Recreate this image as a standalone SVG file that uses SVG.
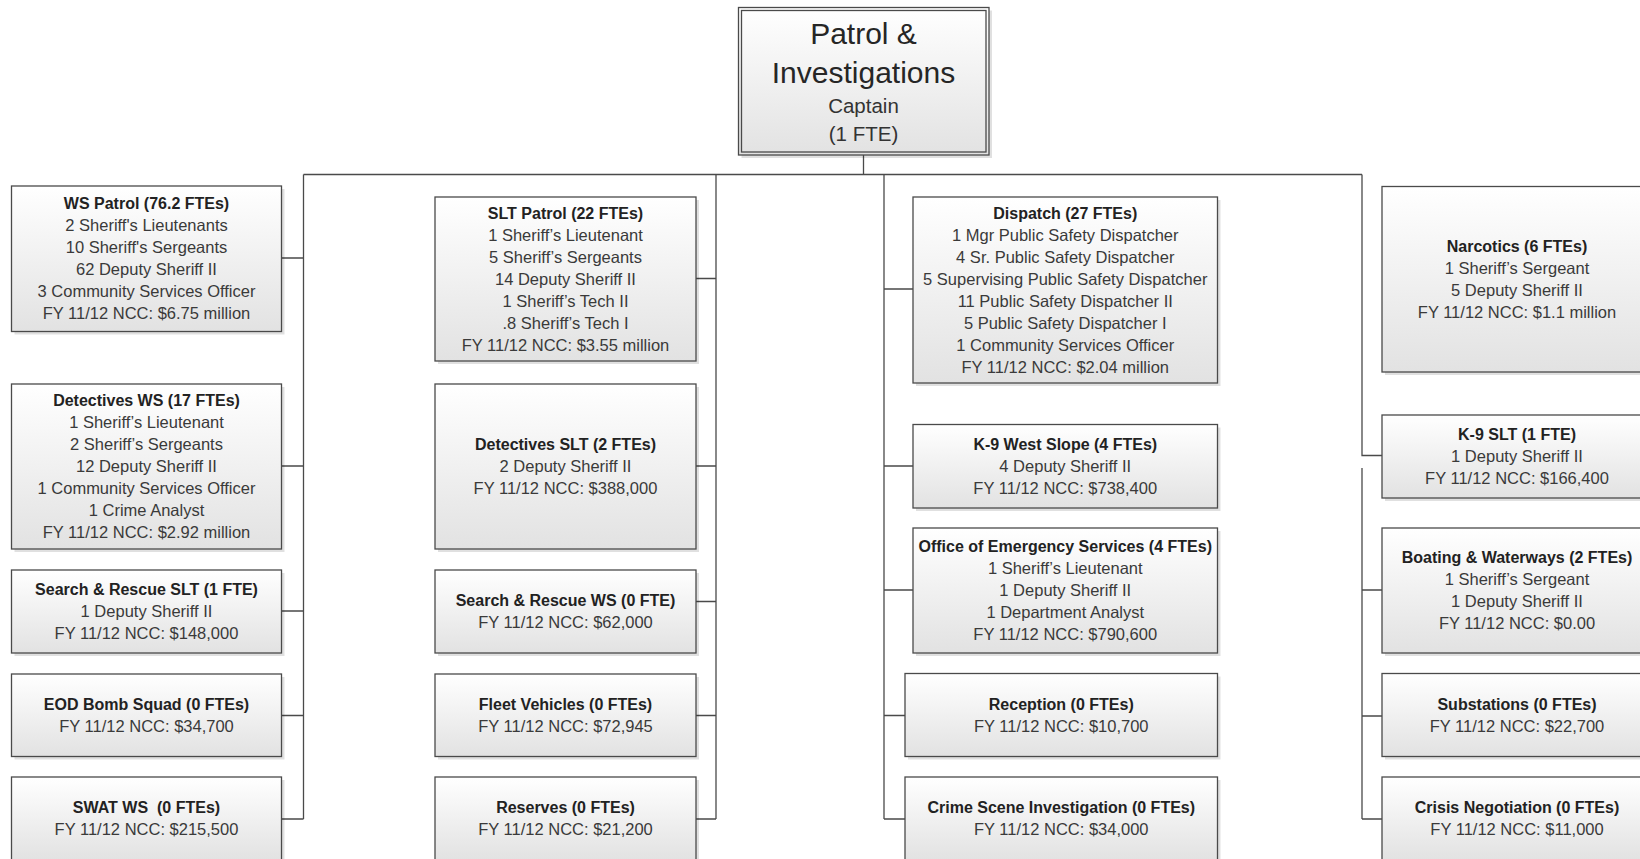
<svg xmlns="http://www.w3.org/2000/svg" width="1640" height="859" viewBox="0 0 1640 859">
<style>
.sh{fill:#000;opacity:0.12}
.bx{fill:url(#g);stroke:#4a4a4a;stroke-width:1.3}
.t{font-family:"Liberation Sans",Arial,sans-serif;font-size:16.5px;fill:#3a3a3a;text-anchor:middle}
.h{font-weight:bold;font-size:16px;fill:#222}
.ti{font-family:"Liberation Sans",Arial,sans-serif;font-size:30px;fill:#262626;text-anchor:middle}
.ts{font-family:"Liberation Sans",Arial,sans-serif;font-size:20.5px;fill:#333;text-anchor:middle}
.cn{fill:none;stroke:#4a4a4a;stroke-width:1.3}
</style>
<defs>
<linearGradient id="g" x1="0" y1="0" x2="0" y2="1">
<stop offset="0" stop-color="#ffffff"/>
<stop offset="1" stop-color="#e2e2e2"/>
</linearGradient>
</defs>
<rect width="1640" height="859" fill="#fff"/>

<g id="connectors">
<path class="cn" d="M863.5 155V174.5M303.5 174.5H1362"/>
<path class="cn" d="M303.5 174.5V819M281.5 258H303.5M281.5 466H303.5M281.5 611H303.5M281.5 715.5H303.5M281.5 819H303.5"/>
<path class="cn" d="M716 174.5V819M696 278.5H716M696 466H716M696 601.5H716M696 715.5H716M696 819H716"/>
<path class="cn" d="M884 174.5V819M884 289H913M884 466H913M884 590H913M884 715.5H905M884 819H905"/>
<path class="cn" d="M1362 174.5V455.5H1382M1362 468V819M1362 590H1382M1362 716H1382M1362 819H1382"/>
</g>

<g id="top">
<rect class="sh" x="741.5" y="10.5" width="250.5" height="147.5"/>
<rect x="738.5" y="7.5" width="250.5" height="147.5" fill="url(#g)" stroke="#4a4a4a" stroke-width="1.3"/>
<rect x="741.5" y="10.5" width="244.5" height="141.5" fill="none" stroke="#4a4a4a" stroke-width="1.3"/>
<text class="ti" x="863.5" y="43.5">Patrol &amp;</text>
<text class="ti" x="863.5" y="83">Investigations</text>
<text class="ts" x="863.5" y="113">Captain</text>
<text class="ts" x="863.5" y="141">(1 FTE)</text>
</g>

<!-- Column 1 -->
<g id="ws-patrol">
<rect class="sh" x="14.5" y="189" width="270" height="145.5"/>
<rect class="bx" x="11.5" y="186" width="270" height="145.5"/>
<text class="t h" x="146.5" y="209.25">WS Patrol (76.2 FTEs)</text>
<text class="t" x="146.5" y="231.25">2 Sheriff's Lieutenants</text>
<text class="t" x="146.5" y="253.25">10 Sheriff's Sergeants</text>
<text class="t" x="146.5" y="275.25">62 Deputy Sheriff II</text>
<text class="t" x="146.5" y="297.25">3 Community Services Officer</text>
<text class="t" x="146.5" y="319.25">FY 11/12 NCC: $6.75 million</text>
</g>
<g id="detectives-ws">
<rect class="sh" x="14.5" y="387" width="270" height="165"/>
<rect class="bx" x="11.5" y="384" width="270" height="165"/>
<text class="t h" x="146.5" y="406">Detectives WS (17 FTEs)</text>
<text class="t" x="146.5" y="428">1 Sheriff’s Lieutenant</text>
<text class="t" x="146.5" y="450">2 Sheriff’s Sergeants</text>
<text class="t" x="146.5" y="472">12 Deputy Sheriff II</text>
<text class="t" x="146.5" y="494">1 Community Services Officer</text>
<text class="t" x="146.5" y="516">1 Crime Analyst</text>
<text class="t" x="146.5" y="538">FY 11/12 NCC: $2.92 million</text>
</g>
<g id="sr-slt">
<rect class="sh" x="14.5" y="573" width="270" height="83"/>
<rect class="bx" x="11.5" y="570" width="270" height="83"/>
<text class="t h" x="146.5" y="595">Search &amp; Rescue SLT (1 FTE)</text>
<text class="t" x="146.5" y="617">1 Deputy Sheriff II</text>
<text class="t" x="146.5" y="639">FY 11/12 NCC: $148,000</text>
</g>
<g id="eod">
<rect class="sh" x="14.5" y="677" width="270" height="82.5"/>
<rect class="bx" x="11.5" y="674" width="270" height="82.5"/>
<text class="t h" x="146.5" y="709.75">EOD Bomb Squad (0 FTEs)</text>
<text class="t" x="146.5" y="731.75">FY 11/12 NCC: $34,700</text>
</g>
<g id="swat-ws">
<rect class="sh" x="14.5" y="780" width="270" height="83"/>
<rect class="bx" x="11.5" y="777" width="270" height="83"/>
<text class="t h" x="146.5" y="813" xml:space="preserve">SWAT WS  (0 FTEs)</text>
<text class="t" x="146.5" y="835">FY 11/12 NCC: $215,500</text>
</g>

<!-- Column 2 -->
<g id="slt-patrol">
<rect class="sh" x="438" y="200" width="261" height="164"/>
<rect class="bx" x="435" y="197" width="261" height="164"/>
<text class="t h" x="565.5" y="218.5">SLT Patrol (22 FTEs)</text>
<text class="t" x="565.5" y="240.5">1 Sheriff’s Lieutenant</text>
<text class="t" x="565.5" y="262.5">5 Sheriff’s Sergeants</text>
<text class="t" x="565.5" y="284.5">14 Deputy Sheriff II</text>
<text class="t" x="565.5" y="306.5">1 Sheriff’s Tech II</text>
<text class="t" x="565.5" y="328.5">.8 Sheriff’s Tech I</text>
<text class="t" x="565.5" y="350.5">FY 11/12 NCC: $3.55 million</text>
</g>
<g id="detectives-slt">
<rect class="sh" x="438" y="387" width="261" height="165"/>
<rect class="bx" x="435" y="384" width="261" height="165"/>
<text class="t h" x="565.5" y="450">Detectives SLT (2 FTEs)</text>
<text class="t" x="565.5" y="472">2 Deputy Sheriff II</text>
<text class="t" x="565.5" y="494">FY 11/12 NCC: $388,000</text>
</g>
<g id="sr-ws">
<rect class="sh" x="438" y="573" width="261" height="83"/>
<rect class="bx" x="435" y="570" width="261" height="83"/>
<text class="t h" x="565.5" y="606">Search &amp; Rescue WS (0 FTE)</text>
<text class="t" x="565.5" y="628">FY 11/12 NCC: $62,000</text>
</g>
<g id="fleet">
<rect class="sh" x="438" y="677" width="261" height="82.5"/>
<rect class="bx" x="435" y="674" width="261" height="82.5"/>
<text class="t h" x="565.5" y="709.75">Fleet Vehicles (0 FTEs)</text>
<text class="t" x="565.5" y="731.75">FY 11/12 NCC: $72,945</text>
</g>
<g id="reserves">
<rect class="sh" x="438" y="780" width="261" height="83"/>
<rect class="bx" x="435" y="777" width="261" height="83"/>
<text class="t h" x="565.5" y="813">Reserves (0 FTEs)</text>
<text class="t" x="565.5" y="835">FY 11/12 NCC: $21,200</text>
</g>

<!-- Column 3 -->
<g id="dispatch">
<rect class="sh" x="916" y="200" width="304.5" height="186"/>
<rect class="bx" x="913" y="197" width="304.5" height="186"/>
<text class="t h" x="1065.25" y="218.5">Dispatch (27 FTEs)</text>
<text class="t" x="1065.25" y="240.5">1 Mgr Public Safety Dispatcher</text>
<text class="t" x="1065.25" y="262.5">4 Sr. Public Safety Dispatcher</text>
<text class="t" x="1065.25" y="284.5">5 Supervising Public Safety Dispatcher</text>
<text class="t" x="1065.25" y="306.5">11 Public Safety Dispatcher II</text>
<text class="t" x="1065.25" y="328.5">5 Public Safety Dispatcher I</text>
<text class="t" x="1065.25" y="350.5">1 Community Services Officer</text>
<text class="t" x="1065.25" y="372.5">FY 11/12 NCC: $2.04 million</text>
</g>
<g id="k9-west-slope">
<rect class="sh" x="916" y="427.5" width="304.5" height="83.5"/>
<rect class="bx" x="913" y="424.5" width="304.5" height="83.5"/>
<text class="t h" x="1065.25" y="449.75">K-9 West Slope (4 FTEs)</text>
<text class="t" x="1065.25" y="471.75">4 Deputy Sheriff II</text>
<text class="t" x="1065.25" y="493.75">FY 11/12 NCC: $738,400</text>
</g>
<g id="oes">
<rect class="sh" x="916" y="531" width="304.5" height="125"/>
<rect class="bx" x="913" y="528" width="304.5" height="125"/>
<text class="t h" x="1065.25" y="552">Office of Emergency Services (4 FTEs)</text>
<text class="t" x="1065.25" y="574">1 Sheriff’s Lieutenant</text>
<text class="t" x="1065.25" y="596">1 Deputy Sheriff II</text>
<text class="t" x="1065.25" y="618">1 Department Analyst</text>
<text class="t" x="1065.25" y="640">FY 11/12 NCC: $790,600</text>
</g>
<g id="reception">
<rect class="sh" x="908" y="676.5" width="312.5" height="83"/>
<rect class="bx" x="905" y="673.5" width="312.5" height="83"/>
<text class="t h" x="1061.25" y="709.5">Reception (0 FTEs)</text>
<text class="t" x="1061.25" y="731.5">FY 11/12 NCC: $10,700</text>
</g>
<g id="csi">
<rect class="sh" x="908" y="780" width="312.5" height="83"/>
<rect class="bx" x="905" y="777" width="312.5" height="83"/>
<text class="t h" x="1061.25" y="813">Crime Scene Investigation (0 FTEs)</text>
<text class="t" x="1061.25" y="835">FY 11/12 NCC: $34,000</text>
</g>

<!-- Column 4 -->
<g id="narcotics">
<rect class="sh" x="1385" y="189.5" width="270" height="185.5"/>
<rect class="bx" x="1382" y="186.5" width="270" height="185.5"/>
<text class="t h" x="1517" y="251.75">Narcotics (6 FTEs)</text>
<text class="t" x="1517" y="273.75">1 Sheriff’s Sergeant</text>
<text class="t" x="1517" y="295.75">5 Deputy Sheriff II</text>
<text class="t" x="1517" y="317.75">FY 11/12 NCC: $1.1 million</text>
</g>
<g id="k9-slt">
<rect class="sh" x="1385" y="418" width="270" height="83"/>
<rect class="bx" x="1382" y="415" width="270" height="83"/>
<text class="t h" x="1517" y="440">K-9 SLT (1 FTE)</text>
<text class="t" x="1517" y="462">1 Deputy Sheriff II</text>
<text class="t" x="1517" y="484">FY 11/12 NCC: $166,400</text>
</g>
<g id="boating">
<rect class="sh" x="1385" y="531" width="270" height="125"/>
<rect class="bx" x="1382" y="528" width="270" height="125"/>
<text class="t h" x="1517" y="563">Boating &amp; Waterways (2 FTEs)</text>
<text class="t" x="1517" y="585">1 Sheriff’s Sergeant</text>
<text class="t" x="1517" y="607">1 Deputy Sheriff II</text>
<text class="t" x="1517" y="629">FY 11/12 NCC: $0.00</text>
</g>
<g id="substations">
<rect class="sh" x="1385" y="676.5" width="270" height="83"/>
<rect class="bx" x="1382" y="673.5" width="270" height="83"/>
<text class="t h" x="1517" y="709.5">Substations (0 FTEs)</text>
<text class="t" x="1517" y="731.5">FY 11/12 NCC: $22,700</text>
</g>
<g id="crisis">
<rect class="sh" x="1385" y="780" width="270" height="83"/>
<rect class="bx" x="1382" y="777" width="270" height="83"/>
<text class="t h" x="1517" y="813">Crisis Negotiation (0 FTEs)</text>
<text class="t" x="1517" y="835">FY 11/12 NCC: $11,000</text>
</g>
</svg>
